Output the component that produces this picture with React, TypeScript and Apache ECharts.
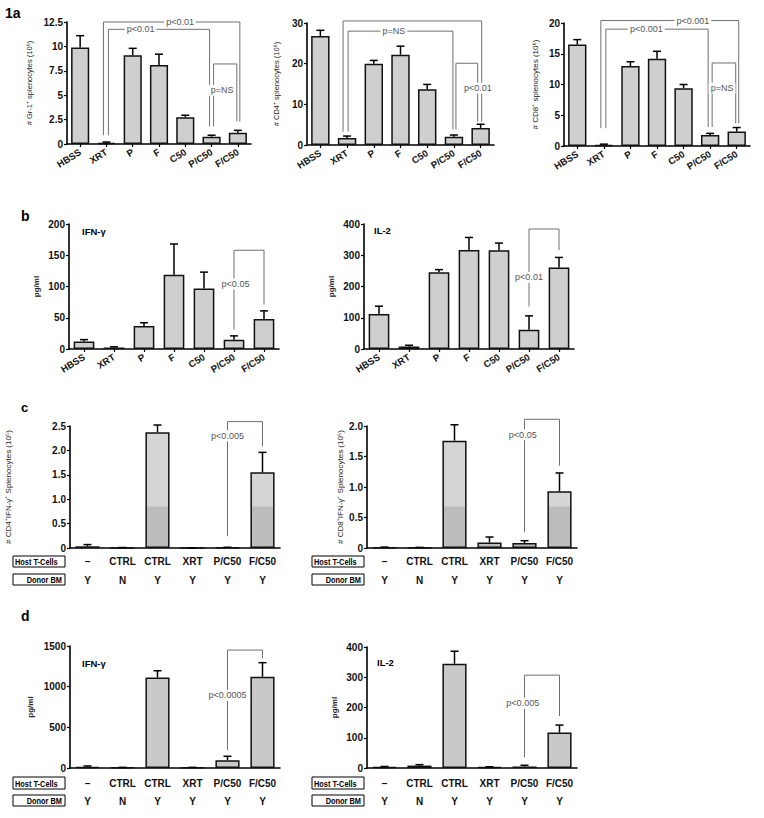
import React, { useEffect, useRef } from 'react';
import * as echarts from 'echarts';

// ---------- data ----------
const treatA = ['HBSS', 'XRT', 'P', 'F', 'C50', 'P/C50', 'F/C50'];
const gr1Mean = [9.9, 0.1, 9.1, 8.1, 2.75, 0.75, 1.15];
const gr1Upper = [11.1, 0.2, 9.8, 9.2, 2.95, 0.9, 1.4];
const cd4Mean = [26.8, 1.7, 20.0, 22.2, 13.7, 2.0, 4.2];
const cd4Upper = [28.2, 2.2, 20.8, 24.3, 14.9, 2.45, 5.1];
const cd8Mean = [16.5, 0.2, 13.0, 14.2, 9.4, 1.8, 2.35];
const cd8Upper = [17.3, 0.3, 13.7, 15.4, 10.0, 2.05, 3.0];
const ifnB = [12, 2.5, 37, 119, 97, 15, 48];
const ifnBUpper = [15, 3.5, 42, 168, 123, 21, 61];
const il2B = [112, 8, 246, 317, 316, 62, 261];
const il2BUpper = [137, 12, 254, 357, 339, 106, 293];

const hostTCells = ['–', 'CTRL', 'CTRL', 'XRT', 'P/C50', 'F/C50'];
const donorBM = ['Y', 'N', 'Y', 'Y', 'Y', 'Y'];
const cd4Ifn = [0.035, 0.005, 2.37, 0.003, 0.01, 1.55];
const cd4IfnUpper = [0.07, 0.01, 2.52, 0.005, 0.015, 1.96];
const cd8Ifn = [0.01, 0.005, 1.76, 0.09, 0.08, 0.93];
const cd8IfnUpper = [0.015, 0.01, 2.02, 0.18, 0.12, 1.23];
const ifnD = [12, 5, 1114, 5, 95, 1122];
const ifnDUpper = [25, 8, 1196, 8, 144, 1295];
const il2D = [3, 8, 345, 3, 5, 117];
const il2DUpper = [5, 11, 386, 4, 9, 142];

// significance brackets (category indices, values in axis units)
const gr1Brackets = [
  { from: 1, to: 6, top: 12.5, fromEnd: 0.9, toEnd: 2.3, label: 'p<0.01', lx: 3.8, ly: 12.5 },
  { from: 1, to: 5, top: 11.75, fromEnd: 0.9, toEnd: 1.8, label: 'p<0.01', lx: 2.3, ly: 11.75 },
  { from: 5, to: 6, top: 8.2, fromEnd: 1.8, toEnd: 2.3, label: 'p=NS', lx: 5.4, ly: 5.5 },
];
const cd4Brackets = [
  { from: 1, to: 6, top: 30.5, fromEnd: 3.3, toEnd: 5.7, label: '', lx: 0, ly: 0 },
  { from: 1, to: 5, top: 28, fromEnd: 3.3, toEnd: 3.8, label: 'p=NS', lx: 2.75, ly: 28 },
  { from: 5, to: 6, top: 20.1, fromEnd: 3.8, toEnd: 5.7, label: 'p<0.01', lx: 5.9, ly: 14 },
];
const cd8Brackets = [
  { from: 1, to: 6, top: 20.4, fromEnd: 2.9, toEnd: 3.7, label: 'p<0.001', lx: 4.35, ly: 20.4 },
  { from: 1, to: 5, top: 19.0, fromEnd: 2.9, toEnd: 3.1, label: 'p<0.001', lx: 2.6, ly: 19.0 },
  { from: 5, to: 6, top: 13.5, fromEnd: 3.1, toEnd: 3.7, label: 'p=NS', lx: 5.45, ly: 9.4 },
];
const ifnBBrackets = [{ from: 5, to: 6, top: 158, fromEnd: 31, toEnd: 71, label: 'p<0.05', lx: 5.05, ly: 104 }];
const il2BBrackets = [{ from: 5, to: 6, top: 384, fromEnd: 136, toEnd: 317, label: 'p<0.01', lx: 5.0, ly: 229 }];
const cd4IfnBrackets = [{ from: 4, to: 5, top: 2.59, fromEnd: 0.24, toEnd: 2.08, label: 'p<0.005', lx: 4.0, ly: 2.3 }];
const cd8IfnBrackets = [{ from: 4, to: 5, top: 2.11, fromEnd: 0.26, toEnd: 1.35, label: 'p<0.05', lx: 3.95, ly: 1.86 }];
const ifnDBrackets = [{ from: 4, to: 5, top: 1450, fromEnd: 218, toEnd: 1348, label: 'p<0.0005', lx: 4.0, ly: 896 }];
const il2DBrackets = [{ from: 4, to: 5, top: 307, fromEnd: 36, toEnd: 172, label: 'p<0.005', lx: 3.95, ly: 214 }];

// pixel nudges of bracket legs (style only)
const tripleOffsets = [[-3, 2], [2, -2], [2, -1]];
const singleOffsets = [[0, 0]];

const FONT = 'Liberation Sans, Arial, Helvetica, sans-serif';

export default function App() {
  const ref = useRef<HTMLDivElement>(null);

  useEffect(() => {
    if (!ref.current) return;
    const chart = echarts.init(ref.current, undefined, { renderer: 'svg' });

    const cFill = new echarts.graphic.LinearGradient(0, 0, 0, 818, [
      { offset: 0, color: '#d5d5d5' },
      { offset: 506 / 818, color: '#d5d5d5' },
      { offset: 507 / 818, color: '#bcbcbc' },
      { offset: 1, color: '#bcbcbc' },
    ], true);

    const panels: any[] = [
      { grid: { left: 67, top: 22, width: 184, height: 122 }, cats: treatA, mean: gr1Mean, upper: gr1Upper, max: 12.5, interval: 2.5, name: '# Gr-1⁺ splenocytes (10⁶)', nameGap: 34, nameSize: 7.5, brackets: gr1Brackets, offsets: tripleOffsets, kind: 'a', fill: '#cfcfcf' },
      { grid: { left: 307, top: 23, width: 187, height: 122 }, cats: treatA, mean: cd4Mean, upper: cd4Upper, max: 30, interval: 10, name: '# CD4⁺ splenocytes (10⁶)', nameGap: 27, nameSize: 7.5, brackets: cd4Brackets, offsets: [[-4, 1], [1, -1], [2, -3]], kind: 'a', fill: '#cfcfcf' },
      { grid: { left: 564, top: 23, width: 186, height: 123 }, cats: treatA, mean: cd8Mean, upper: cd8Upper, max: 20, interval: 5, name: '# CD8⁺ splenocytes (10⁶)', nameGap: 25, nameSize: 8, brackets: cd8Brackets, offsets: tripleOffsets, kind: 'a', fill: '#cfcfcf' },
      { grid: { left: 69, top: 224, width: 210, height: 125 }, cats: treatA, mean: ifnB, upper: ifnBUpper, max: 200, interval: 50, name: 'pg/ml', nameGap: 29, nameSize: 8, brackets: ifnBBrackets, offsets: singleOffsets, kind: 'a', fill: '#cfcfcf' },
      { grid: { left: 364, top: 224, width: 210, height: 125 }, cats: treatA, mean: il2B, upper: il2BUpper, max: 400, interval: 100, name: 'pg/ml', nameGap: 29, nameSize: 8, brackets: il2BBrackets, offsets: singleOffsets, kind: 'a', fill: '#cfcfcf' },
      { grid: { left: 70, top: 426, width: 210, height: 122 }, cats: hostTCells, mean: cd4Ifn, upper: cd4IfnUpper, max: 2.5, interval: 0.5, name: '# CD4⁺IFN-γ⁺ Splenocytes (10⁵)', nameGap: 58, nameSize: 8, brackets: cd4IfnBrackets, offsets: singleOffsets, kind: 'c', fill: cFill, dec: true, rowH: 19, margin: 4 },
      { grid: { left: 367, top: 426, width: 210, height: 122 }, cats: hostTCells, mean: cd8Ifn, upper: cd8IfnUpper, max: 2.0, interval: 0.5, name: '# CD8⁺IFN-γ⁺ Splenocytes (10⁵)', nameGap: 23, nameSize: 8, brackets: cd8IfnBrackets, offsets: singleOffsets, kind: 'c', fill: cFill, dec: true, rowH: 19, margin: 4 },
      { grid: { left: 70, top: 646, width: 210, height: 122 }, cats: hostTCells, mean: ifnD, upper: ifnDUpper, max: 1500, interval: 500, name: 'pg/ml', nameGap: 36, nameSize: 8, brackets: ifnDBrackets, offsets: singleOffsets, kind: 'c', fill: '#c9c9c9', rowH: 18, margin: 6 },
      { grid: { left: 367, top: 647, width: 210, height: 121 }, cats: hostTCells, mean: il2D, upper: il2DUpper, max: 400, interval: 100, name: 'pg/ml', nameGap: 29, nameSize: 8, brackets: il2DBrackets, offsets: singleOffsets, kind: 'c', fill: '#c9c9c9', rowH: 18, margin: 6 },
    ];

    const grid: any[] = [];
    const xAxis: any[] = [];
    const yAxis: any[] = [];
    const series: any[] = [];

    panels.forEach((p, i) => {
      grid.push({ ...p.grid, containLabel: false });
      const isA = p.kind === 'a';
      xAxis.push({
        type: 'category',
        gridIndex: i,
        data: p.cats,
        axisLine: { show: true, lineStyle: { color: '#000', width: 1.6 } },
        axisTick: { show: isA, alignWithLabel: true, length: 3, lineStyle: { color: '#000', width: 1.2 } },
        axisLabel: isA
          ? { interval: 0, rotate: 32, fontSize: 9.5, fontWeight: 'bold', color: '#111', margin: 7, fontFamily: FONT }
          : {
              interval: 0, fontSize: 10, fontWeight: 'bold', color: '#111', margin: p.margin, lineHeight: p.rowH, fontFamily: FONT,
              formatter: (v: string, idx: number) => `${v}\n${donorBM[idx]}`,
            },
      });
      yAxis.push({
        type: 'value',
        gridIndex: i,
        min: 0,
        max: p.max,
        interval: p.interval,
        name: p.name,
        nameLocation: 'middle',
        nameGap: p.nameGap,
        nameTextStyle: { fontSize: p.nameSize, color: '#222', fontFamily: FONT, fontWeight: p.name === 'pg/ml' ? 'bold' : 'normal' },
        axisLine: { show: true, lineStyle: { color: '#000', width: 1.6 } },
        axisTick: { show: true, length: 3, lineStyle: { color: '#000', width: 1.2 } },
        axisLabel: {
          fontSize: 10, fontWeight: 'bold', color: '#111', margin: 4, fontFamily: FONT,
          formatter: p.dec ? (v: number) => (v === 0 ? '0' : v.toFixed(1)) : (v: number) => String(v),
        },
        splitLine: { show: false },
      });
      series.push({
        type: 'bar',
        xAxisIndex: i,
        yAxisIndex: i,
        data: p.mean,
        barCategoryGap: '31%',
        silent: true,
        itemStyle: { color: p.fill, borderColor: '#111', borderWidth: 1.5 },
        z: 2,
      });
      series.push({
        type: 'custom',
        xAxisIndex: i,
        yAxisIndex: i,
        silent: true,
        z: 3,
        data: p.upper.map((u: number, k: number) => [k, p.mean[k], u]),
        renderItem: (params: any, api: any) => {
          const a = api.coord([api.value(0), api.value(1)]);
          const b = api.coord([api.value(0), api.value(2)]);
          const st = { stroke: '#000', lineWidth: 1.5 };
          return {
            type: 'group',
            children: [
              { type: 'line', shape: { x1: a[0], y1: a[1], x2: b[0], y2: b[1] }, style: st },
              { type: 'line', shape: { x1: b[0] - 4, y1: b[1], x2: b[0] + 4, y2: b[1] }, style: st },
            ],
          };
        },
      });
      const brs = p.brackets;
      const offs = p.offsets;
      series.push({
        type: 'custom',
        xAxisIndex: i,
        yAxisIndex: i,
        silent: true,
        clip: false,
        z: 4,
        data: brs.map((b: any) => [b.from, b.top]),
        renderItem: (params: any, api: any) => {
          const b = brs[params.dataIndex];
          const off = offs[params.dataIndex] || [0, 0];
          const tA = api.coord([b.from, b.top]);
          const tB = api.coord([b.to, b.top]);
          const eA = api.coord([b.from, b.fromEnd]);
          const eB = api.coord([b.to, b.toEnd]);
          const xa = tA[0] + off[0];
          const xb = tB[0] + off[1];
          const y = tA[1];
          const children: any[] = [
            {
              type: 'polyline',
              shape: { points: [[xa, eA[1]], [xa, y], [xb, y], [xb, eB[1]]] },
              style: { stroke: '#707070', lineWidth: 1, fill: 'none' },
            },
          ];
          if (b.label) {
            const band = api.size([1, 0])[0];
            const fl = Math.floor(b.lx);
            const base = api.coord([fl, b.ly]);
            const lxp = base[0] + (b.lx - fl) * band;
            children.push({
              type: 'text',
              x: lxp,
              y: base[1],
              style: {
                text: b.label, fill: '#555', fontSize: 9, fontFamily: FONT,
                align: 'center', verticalAlign: 'middle', backgroundColor: '#fff', padding: [1, 2],
              },
            });
          }
          return { type: 'group', children };
        },
      });
    });

    const txt = (x: number, y: number, text: string, size: number, extra: any = {}) => ({
      type: 'text', x, y, silent: true,
      style: { text, fontSize: size, fontWeight: 'bold', fontFamily: FONT, fill: '#000', verticalAlign: 'top', ...extra },
    });
    const box = (x: number, y: number, w: number, h: number, label: string, right: boolean) => ([
      { type: 'rect', silent: true, shape: { x, y, width: w, height: h }, style: { fill: '#fff', stroke: '#000', lineWidth: 1 } },
      {
        type: 'text', silent: true,
        x: right ? x + w - 3 : x + 2, y: y + h / 2 + 0.5,
        scaleX: 0.78,
        style: { text: label, fontSize: 9.5, fontWeight: 'bold', fontFamily: FONT, fill: '#000', align: right ? 'right' : 'left', verticalAlign: 'middle' },
      },
    ]);

    const graphic: any[] = [
      txt(5, 6, '1a', 14),
      txt(21, 209, 'b', 14),
      txt(21, 401, 'c', 13),
      txt(21, 609, 'd', 14),
      txt(82, 226, 'IFN-γ', 9.5),
      txt(374, 225, 'IL-2', 9.5),
      txt(82, 658, 'IFN-γ', 9.5),
      txt(377, 657, 'IL-2', 9.5),
      ...box(13, 556, 52, 11, 'Host T-Cells', false),
      ...box(13, 574, 52, 11, 'Donor BM', true),
      ...box(312, 556, 52, 11, 'Host T-Cells', false),
      ...box(312, 574, 52, 11, 'Donor BM', true),
      ...box(13, 777, 52, 12, 'Host T-Cells', false),
      ...box(13, 795, 52, 11, 'Donor BM', true),
      ...box(312, 777, 52, 12, 'Host T-Cells', false),
      ...box(312, 795, 52, 11, 'Donor BM', true),
    ];

    chart.setOption({
      animation: false,
      backgroundColor: '#fff',
      textStyle: { fontFamily: FONT },
      grid,
      xAxis,
      yAxis,
      series,
      graphic,
    });

    return () => chart.dispose();
  }, []);

  return <div ref={ref} style={{ position: 'absolute', left: 0, top: 0, width: 764, height: 818 }} />;
}
